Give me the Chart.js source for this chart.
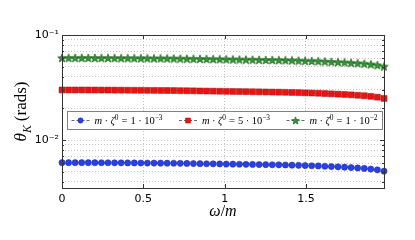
<!DOCTYPE html>
<html lang="en">
<head>
<meta charset="UTF-8">
<title>theta_K vs omega/m</title>
<script src="https://cdn.jsdelivr.net/npm/chart.js"></script>
<style>
  html, body { margin: 0; padding: 0; background: #fff; }
  canvas { display: block; }
</style>
</head>
<body>
<canvas id="chart" width="415" height="240"></canvas>
<script>
// omega/m sample points
const xValues = [0, 0.0404, 0.0808, 0.1212, 0.1616, 0.202, 0.2424, 0.2828, 0.3232, 0.3636,
  0.404, 0.4444, 0.4848, 0.5252, 0.5657, 0.6061, 0.6465, 0.6869, 0.7273, 0.7677,
  0.8081, 0.8485, 0.8889, 0.9293, 0.9697, 1.0101, 1.0505, 1.0909, 1.1313, 1.1717,
  1.2121, 1.2525, 1.2929, 1.3333, 1.3737, 1.4141, 1.4545, 1.4949, 1.5354, 1.5758,
  1.6162, 1.6566, 1.697, 1.7374, 1.7778, 1.8182, 1.8586, 1.899, 1.9394, 1.98]

// theta_K for m*zeta0 = 1e-3
const blueValues = [0.0061, 0.0061, 0.0061, 0.0061, 0.006093, 0.006093, 0.006087, 0.006087, 0.00608, 0.006073,
  0.006066, 0.00606, 0.006054, 0.006047, 0.00604, 0.006034, 0.006027, 0.00602, 0.006007, 0.005994,
  0.005981, 0.005968, 0.005955, 0.005941, 0.005928, 0.005915, 0.005902, 0.005889, 0.005876, 0.005864,
  0.005851, 0.005838, 0.005825, 0.005813, 0.005794, 0.005775, 0.005749, 0.005724, 0.005699, 0.005674,
  0.005637, 0.0056, 0.005563, 0.005527, 0.00548, 0.00543, 0.005372, 0.005302, 0.005209, 0.005062]

// theta_K for m*zeta0 = 5e-3
const redValues = [0.03, 0.03, 0.03, 0.03, 0.02997, 0.02997, 0.02993, 0.02993, 0.0299, 0.02987,
  0.02984, 0.0298, 0.02977, 0.02974, 0.02971, 0.02967, 0.02964, 0.02961, 0.02954, 0.02948,
  0.02942, 0.02935, 0.02929, 0.02922, 0.02916, 0.02909, 0.02903, 0.02897, 0.0289, 0.02884,
  0.02878, 0.02871, 0.02865, 0.02859, 0.02849, 0.0284, 0.02828, 0.02815, 0.02803, 0.02791,
  0.02772, 0.02754, 0.02736, 0.02718, 0.02695, 0.02671, 0.02642, 0.02608, 0.02562, 0.0249]

// theta_K for m*zeta0 = 1e-2
const greenValues = [0.0605, 0.0605, 0.0605, 0.0605, 0.06043, 0.06043, 0.06037, 0.06037, 0.0603, 0.06023,
  0.06017, 0.0601, 0.06004, 0.05997, 0.05991, 0.05984, 0.05977, 0.0597, 0.05958, 0.05945,
  0.05932, 0.05919, 0.05906, 0.05893, 0.0588, 0.05867, 0.05854, 0.05841, 0.05828, 0.05816,
  0.05803, 0.0579, 0.05778, 0.05765, 0.05746, 0.05728, 0.05702, 0.05677, 0.05653, 0.05628,
  0.05591, 0.05554, 0.05518, 0.05482, 0.05434, 0.05386, 0.05328, 0.05259, 0.05167, 0.05021]

const legendCoefs = ["1", "5", "1"]
const legendExps = ["\u22123", "\u22123", "\u22122"]

const xTickValues = [0, 0.5, 1, 1.5]
const xTickLabels = ["0", "0.5", "1", "1.5"]
const yTickValues = [0.004, 0.005, 0.006, 0.007, 0.008, 0.009, 0.01,
  0.02, 0.03, 0.04, 0.05, 0.06, 0.07, 0.08, 0.09, 0.1]
const yMajor = new Map([[0.01, "10\u207B\u00B2"], [0.1, "10\u207B\u00B9"]])

// filled five-point star marker
function makeStar(size) {
  const c = document.createElement("canvas")
  c.width = size; c.height = size
  const g = c.getContext("2d")
  const cx = size / 2, cy = size / 2 + 0.4, ro = size / 2 - 0.5, ri = ro * 0.42
  g.beginPath()
  for (let k = 0; k < 10; k++) {
    const r = k % 2 ? ri : ro
    const a = -Math.PI / 2 + k * Math.PI / 5
    g.lineTo(cx + r * Math.cos(a), cy + r * Math.sin(a))
  }
  g.closePath()
  g.fillStyle = "#2f9a2f"
  g.fill()
  g.strokeStyle = "#1e5a1e"
  g.lineWidth = 0.7
  g.stroke()
  return c
}
const starImg = makeStar(10)
const starSmall = makeStar(9)

const seriesStyles = [
  { color: "#2a3fe6", edge: "#1d2aa0", style: "circle", radius: 3.1, legendStyle: "circle" },
  { color: "#ee1111", edge: "#a01010", style: "rect", radius: 4.2, legendStyle: "rect" },
  { color: "#2f9a2f", edge: "#1e5a1e", style: starImg, radius: 5, legendStyle: starSmall },
]
const seriesValues = [blueValues, redValues, greenValues]

const datasets = seriesValues.map((vals, i) => ({
  label: "m \u00B7 \u03B6\u2070 = " + legendCoefs[i] + " \u00B7 10" + legendExps[i],
  data: xValues.map((x, j) => ({ x, y: vals[j] })),
  borderColor: "#666",
  borderWidth: 1,
  borderDash: [3, 2],
  pointStyle: seriesStyles[i].style,
  pointRadius: seriesStyles[i].radius,
  pointBackgroundColor: seriesStyles[i].color,
  pointBorderColor: seriesStyles[i].edge,
  pointBorderWidth: 0.5,
  tension: 0,
  clip: 6,
}))

const MATH = "'Liberation Serif', 'DejaVu Serif', serif"

// draw a run of text pieces: {t, it, sup, sub} or {gap}
function drawPieces(ctx, x, y, pieces, size, measureOnly) {
  let cx = x
  for (const p of pieces) {
    if (p.gap) { cx += p.gap; continue }
    const s = (p.sup || p.sub) ? size * 0.7 : size
    ctx.font = (p.it ? "italic " : "") + s + "px " + MATH
    const dy = p.sup ? -size * 0.4 : p.sub ? size * 0.28 : 0
    if (!measureOnly) ctx.fillText(p.t, cx, y + dy)
    cx += ctx.measureText(p.t).width
  }
  return cx - x
}

const decorations = {
  id: "decorations",
  afterDatasetsDraw(chart) {
    const { ctx, chartArea: a, scales } = chart
    ctx.save()
    ctx.strokeStyle = "#333"
    ctx.lineWidth = 1
    // inward ticks
    ctx.beginPath()
    for (const v of yTickValues) {
      const y = Math.round(scales.y.getPixelForValue(v)) + 0.5
      const len = yMajor.has(v) ? 4 : 2
      ctx.moveTo(a.left, y); ctx.lineTo(a.left + len, y)
      ctx.moveTo(a.right, y); ctx.lineTo(a.right - len, y)
    }
    for (const v of xTickValues) {
      const x = Math.round(scales.x.getPixelForValue(v)) + 0.5
      ctx.moveTo(x, a.bottom); ctx.lineTo(x, a.bottom - 4)
      ctx.moveTo(x, a.top); ctx.lineTo(x, a.top + 4)
    }
    ctx.stroke()
    // frame
    ctx.strokeRect(Math.round(a.left) + 0.5, Math.round(a.top) + 0.5,
      Math.round(a.right - a.left), Math.round(a.bottom - a.top))
    ctx.restore()
  },
  afterDraw(chart) {
    const { ctx, chartArea: a } = chart
    ctx.save()
    ctx.fillStyle = "#000"
    ctx.textBaseline = "alphabetic"

    // y title
    ctx.save()
    ctx.translate(26, (a.top + a.bottom) / 2)
    ctx.rotate(-Math.PI / 2)
    const yt = [{ t: "\u03B8", it: true }, { t: "K", it: true, sub: true }, { gap: 4 }, { t: "(rads)" }]
    const yw = drawPieces(ctx, 0, 0, yt, 17, true)
    drawPieces(ctx, -yw / 2, 0, yt, 17)
    ctx.restore()

    // x title
    const xt = [{ t: "\u03C9", it: true }, { t: "/" }, { t: "m", it: true }]
    const xw = drawPieces(ctx, 0, 0, xt, 16, true)
    drawPieces(ctx, (a.left + a.right) / 2 - xw / 2, 216, xt, 16)

    // legend
    const box = { l: 67.5, t: 111.5, r: 382.5, b: 129.5 }
    ctx.fillStyle = "#fff"
    ctx.fillRect(box.l, box.t, box.r - box.l, box.b - box.t)
    ctx.strokeStyle = "#808080"
    ctx.lineWidth = 1
    ctx.strokeRect(box.l, box.t, box.r - box.l, box.b - box.t)
    const fs = 10.5
    const entries = chart.data.datasets.map((d, i) => [
      { t: "m", it: true }, { gap: 2.5 }, { t: "\u00B7" }, { gap: 2.5 },
      { t: "\u03B6", it: true }, { t: "0", sup: true }, { gap: 3 }, { t: "=" }, { gap: 3 },
      { t: legendCoefs[i] }, { gap: 2.5 }, { t: "\u00B7" }, { gap: 2.5 },
      { t: "10" }, { t: legendExps[i], sup: true },
    ])
    const handle = 20, pad = 4
    const widths = entries.map(e => drawPieces(ctx, 0, 0, e, fs, true))
    const used = widths.reduce((s, w) => s + w + handle + pad, 0)
    const gap = (box.r - box.l - 8 - used) / 2
    let x = box.l + 3
    const ym = (box.t + box.b) / 2
    entries.forEach((e, i) => {
      const st = seriesStyles[i]
      ctx.strokeStyle = "#666"
      ctx.lineWidth = 1
      ctx.setLineDash([3, 2])
      ctx.beginPath()
      ctx.moveTo(x + 1, ym); ctx.lineTo(x + handle - 1, ym)
      ctx.stroke()
      ctx.setLineDash([])
      ctx.fillStyle = st.color
      ctx.strokeStyle = st.edge
      ctx.lineWidth = 0.5
      Chart.helpers.drawPoint(ctx, { pointStyle: st.legendStyle, radius: st.radius * 0.85, borderWidth: 0.5 },
        x + handle / 2, ym)
      ctx.fillStyle = "#000"
      drawPieces(ctx, x + handle + pad, ym + 3.5, e, fs)
      x += handle + pad + widths[i] + gap
    })
    ctx.restore()
  },
}

new Chart(document.getElementById("chart"), {
  type: "line",
  data: { datasets },
  plugins: [decorations],
  options: {
    responsive: false,
    animation: false,
    devicePixelRatio: 1,
    layout: { padding: { top: 35, right: 31, left: 0, bottom: 0 } },
    plugins: { legend: { display: false }, tooltip: { enabled: false } },
    scales: {
      x: {
        type: "linear",
        min: 0,
        max: 1.98,
        afterBuildTicks: s => { s.ticks = xTickValues.map(v => ({ value: v })) },
        afterFit: s => { s.height = 52 },
        grid: { color: "#c4c4c4", lineWidth: 1, drawTicks: false },
        border: { display: false, dash: [1, 2] },
        ticks: {
          padding: 5,
          color: "#000",
          font: { family: "'DejaVu Sans'", size: 11 },
          callback: (v, i) => xTickLabels[i],
          maxRotation: 0,
        },
      },
      y: {
        type: "logarithmic",
        min: 0.0035,
        max: 0.1,
        afterBuildTicks: s => { s.ticks = yTickValues.map(v => ({ value: v })) },
        afterFit: s => { s.width = 62 },
        grid: { color: "#c4c4c4", lineWidth: 1, drawTicks: false },
        border: { display: false, dash: [1, 2] },
        ticks: {
          padding: 3,
          color: "#000",
          autoSkip: false,
          font: { family: "'DejaVu Sans'", size: 11 },
          callback: v => yMajor.get(v) ?? "",
        },
      },
    },
  },
})
</script>
</body>
</html>
